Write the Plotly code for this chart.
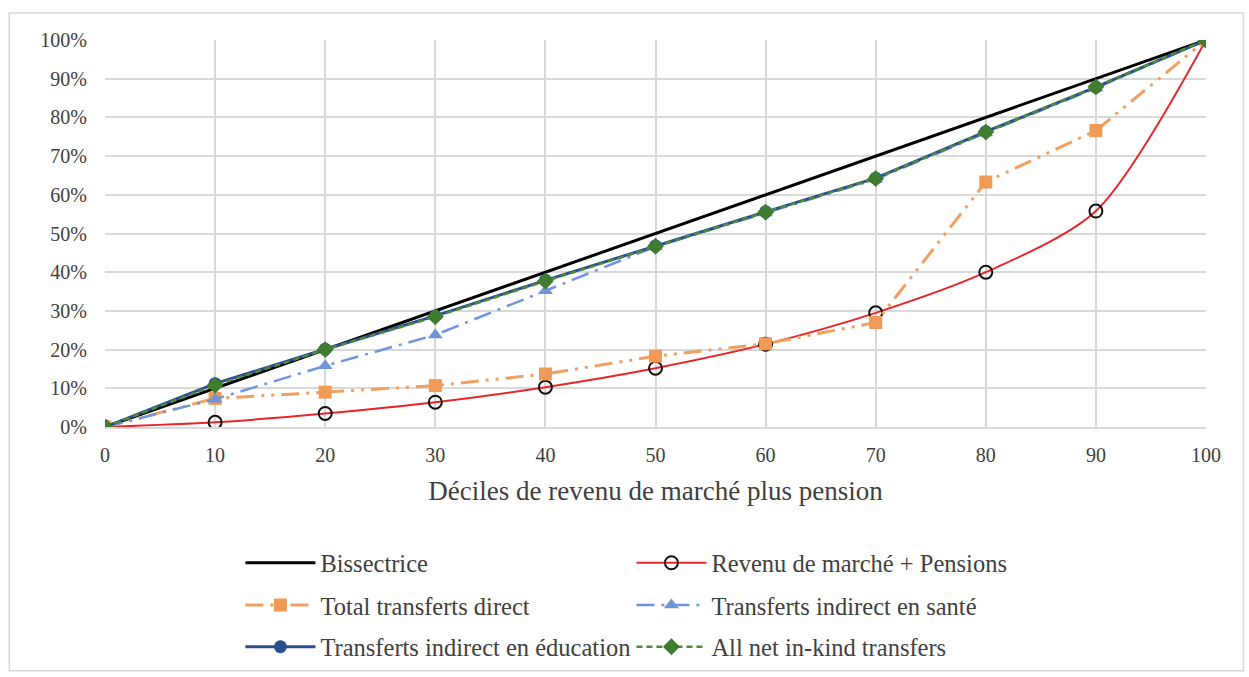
import plotly.graph_objects as go

# Déciles (x) et parts cumulées en % (y)
deciles = [0, 10, 20, 30, 40, 50, 60, 70, 80, 90, 100]
bissectrice = [0, 10, 20, 30, 40, 50, 60, 70, 80, 90, 100]
revenu_marche_pensions = [0, 1.2, 3.5, 6.4, 10.3, 15.2, 21.4, 29.5, 40.0, 55.8, 100]
total_transferts_direct = [0, 7.4, 9.0, 10.7, 13.7, 18.3, 21.5, 27.0, 63.3, 76.6, 100]
transferts_sante = [0, 7.2, 15.8, 23.8, 35.2, 46.6, 55.3, 64.0, 76.0, 87.6, 100]
transferts_education = [0, 11.2, 20.1, 28.7, 37.9, 46.8, 55.6, 64.3, 76.3, 87.8, 100]
all_net_in_kind = [0, 10.8, 20.0, 28.5, 37.7, 46.7, 55.5, 64.2, 76.2, 87.9, 100]

y_ticks = list(range(0, 101, 10))
y_tick_labels = [f"{v}%" for v in y_ticks]
x_ticks = list(range(0, 101, 10))

serif = "Liberation Serif"
text_grey = "#404040"

fig = go.Figure()

# each legend row is its own legend so the rows can be spaced freely
fig.add_trace(go.Scatter(
    x=deciles, y=bissectrice, name="Bissectrice", mode="lines",
    line=dict(color="#000000", width=3), legend="legend",
))
fig.add_trace(go.Scatter(
    x=deciles, y=revenu_marche_pensions, name="Revenu de marché + Pensions",
    mode="lines+markers",
    line=dict(color="#E8262A", width=2, shape="spline", smoothing=0.8),
    marker=dict(symbol="circle-open", size=13, color="#111111",
                line=dict(color="#111111", width=2)),
    legend="legend",
))
fig.add_trace(go.Scatter(
    x=deciles, y=total_transferts_direct, name="Total transferts direct",
    mode="lines+markers",
    line=dict(color="#F0A060", width=3, dash="18px,7px,3px,7px,3px,7px"),
    marker=dict(symbol="square", size=13, color="#F09A55"),
    legend="legend2",
))
fig.add_trace(go.Scatter(
    x=deciles, y=transferts_sante, name="Transferts indirect en santé",
    mode="lines+markers",
    line=dict(color="#6E96D8", width=2.5, dash="18px,7px,3px,7px"),
    marker=dict(symbol="triangle-up", size=13, color="#6E96D8"),
    legend="legend2",
))
fig.add_trace(go.Scatter(
    x=deciles, y=transferts_education, name="Transferts indirect en éducation",
    mode="lines+markers",
    line=dict(color="#2A4F8F", width=3),
    marker=dict(symbol="circle", size=13, color="#2A4F8F"),
    legend="legend3",
))
fig.add_trace(go.Scatter(
    x=deciles, y=all_net_in_kind, name="All net in-kind transfers",
    mode="lines+markers",
    line=dict(color="#4E8A3A", width=2.5, dash="6px,4px"),
    marker=dict(symbol="diamond", size=13, color="#3F7D2E"),
    legend="legend3",
))


def legend_row(y):
    return dict(
        orientation="h", x=0.123, xanchor="left", y=y, yanchor="middle",
        entrywidth=306, entrywidthmode="pixels", itemwidth=70,
        font=dict(family=serif, size=24.5, color=text_grey),
        bgcolor="rgba(0,0,0,0)", traceorder="normal",
    )


fig.update_layout(
    width=1249, height=677,
    paper_bgcolor="white", plot_bgcolor="white",
    margin=dict(l=105, r=43, t=40, b=250, autoexpand=False),
    font=dict(family=serif, size=20, color=text_grey),
    showlegend=True,
    legend=legend_row(-0.351),
    legend2=legend_row(-0.460),
    legend3=legend_row(-0.568),
    shapes=[dict(type="rect", xref="paper", yref="paper",
                 x0=-0.087, x1=1.034, y0=-0.63, y1=1.07,
                 line=dict(color="#D9D9D9", width=1.5), layer="below")],
)

fig.update_xaxes(
    range=[0, 100], tickvals=x_ticks, ticktext=[str(v) for v in x_ticks],
    showgrid=True, gridcolor="#D9D9D9", gridwidth=1.5,
    showline=True, linecolor="#D9D9D9", linewidth=1.5,
    zeroline=False, ticks="", ticklabelstandoff=9, automargin=False,
    tickfont=dict(family=serif, size=20, color=text_grey),
    title=dict(text="Déciles de revenu de marché plus pension",
               font=dict(family=serif, size=27, color=text_grey), standoff=16),
)
fig.update_yaxes(
    range=[0, 100], tickvals=y_ticks, ticktext=y_tick_labels,
    showgrid=True, gridcolor="#D9D9D9", gridwidth=1.5,
    showline=False, zeroline=False, ticks="", ticklabelstandoff=17,
    automargin=False,
    tickfont=dict(family=serif, size=20, color=text_grey),
)

fig.write_html("out.html")
